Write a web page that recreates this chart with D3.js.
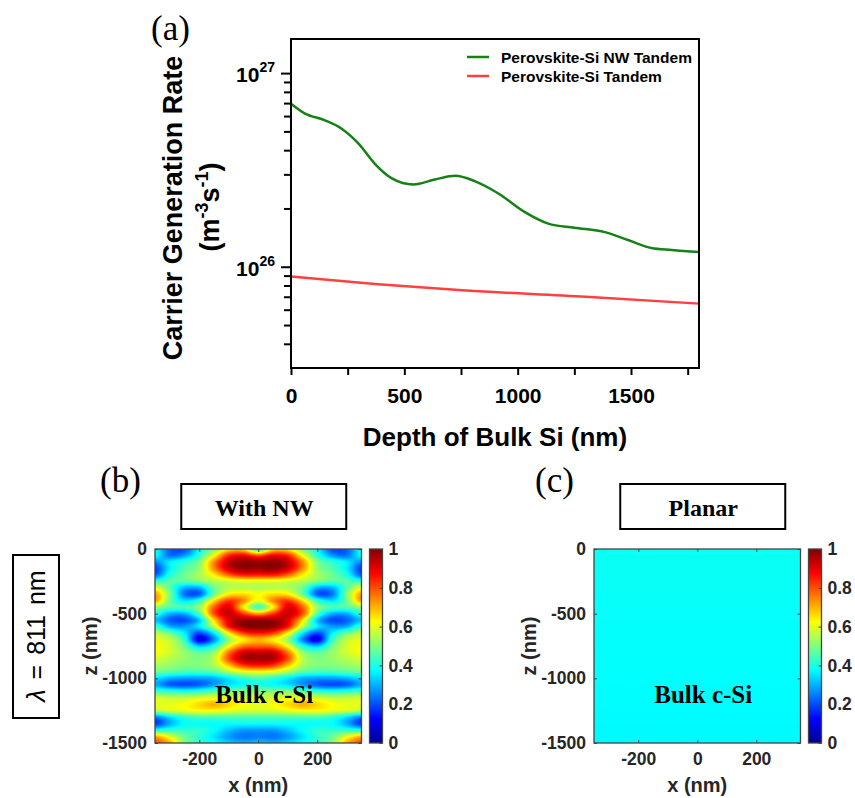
<!DOCTYPE html>
<html>
<head>
<meta charset="utf-8">
<script src="https://cdn.jsdelivr.net/npm/d3@7"></script>
<style>
  body { margin: 0; background: #fff; }
  svg text { font-family: Arial, "Liberation Sans", sans-serif; }
  .b { font-weight: bold; }
  .serif { font-family: "Times New Roman", "Liberation Serif", serif; }
</style>
</head>
<body>
<svg id="fig" width="855" height="798"></svg>
<script>
// ---------- (a) carrier generation rate vs depth ----------
const nwDepth = [0, 60, 150, 225, 300, 370, 445, 540, 635, 725, 810, 915, 1030, 1135, 1250, 1385, 1490, 1590, 1680, 1800];
const nwRate = [6.95e26, 6.2e26, 5.7e26, 5.15e26, 4.3e26, 3.4e26, 2.86e26, 2.66e26, 2.82e26, 2.95e26, 2.77e26, 2.39e26,
                1.92e26, 1.67e26, 1.59e26, 1.51e26, 1.37e26, 1.25e26, 1.22e26, 1.19e26];
const planarDepth = [0, 370, 725, 1300, 1800];
const planarRate = [8.9e25, 8.15e25, 7.6e25, 7.0e25, 6.45e25];
const seriesNames = ["Perovskite-Si NW Tandem", "Perovskite-Si Tandem"];
const depthTicks = [0, 500, 1000, 1500];
const depthMinorTicks = [250, 750, 1250, 1750];
const rateDecades = [1e26, 1e27];
const rateMinorTicks = [4e25, 5e25, 6e25, 7e25, 8e25, 9e25, 2e26, 3e26, 4e26, 5e26, 6e26, 7e26, 8e26, 9e26];

// ---------- (b),(c) normalised generation maps at 811 nm ----------
const fieldX = [-350, -300, -250, -200, -150, -100, -50, 0, 50, 100, 150, 200, 250, 300, 350];
const fieldZ = [0, -50, -100, -150, -200, -250, -300, -350, -400, -450, -500, -550, -600, -650, -700, -750,
                -800, -850, -900, -950, -1000, -1050, -1100, -1150, -1200, -1250, -1300, -1350, -1400, -1450, -1500];
const nwField = [
  [.38, .22, .20, .38, .50, .65, .66, .42, .66, .65, .50, .38, .20, .22, .38],
  [.38, .24, .28, .42, .62, .84, .88, .80, .88, .84, .62, .42, .28, .24, .38],
  [.26, .36, .42, .50, .74, .93, .98, .97, .98, .93, .74, .50, .42, .36, .26],
  [.18, .36, .45, .52, .74, .92, .98, .97, .98, .92, .74, .52, .45, .36, .18],
  [.22, .40, .48, .54, .64, .78, .85, .85, .85, .78, .64, .54, .48, .40, .22],
  [.42, .46, .46, .50, .55, .58, .60, .60, .60, .58, .55, .50, .46, .46, .42],
  [.60, .46, .30, .30, .48, .55, .56, .55, .56, .55, .48, .30, .30, .46, .60],
  [.72, .50, .24, .22, .48, .64, .66, .62, .66, .64, .48, .22, .24, .50, .72],
  [.72, .48, .35, .42, .66, .82, .74, .60, .74, .82, .66, .42, .35, .48, .72],
  [.52, .46, .45, .52, .78, .90, .64, .44, .64, .90, .78, .52, .45, .46, .52],
  [.42, .30, .30, .46, .80, .93, .82, .72, .82, .93, .80, .46, .30, .30, .42],
  [.32, .22, .20, .32, .66, .90, .97, .98, .97, .90, .66, .32, .20, .22, .32],
  [.44, .30, .28, .36, .56, .86, .98, 1.0, .98, .86, .56, .36, .28, .30, .44],
  [.55, .48, .36, .20, .36, .64, .82, .86, .82, .64, .36, .20, .36, .48, .55],
  [.60, .56, .42, .10, .26, .52, .64, .70, .64, .52, .26, .10, .42, .56, .60],
  [.62, .58, .48, .32, .40, .62, .76, .78, .76, .62, .40, .32, .48, .58, .62],
  [.62, .58, .52, .47, .52, .76, .92, .93, .92, .76, .52, .47, .52, .58, .62],
  [.58, .55, .52, .50, .56, .80, .95, .96, .95, .80, .56, .50, .52, .55, .58],
  [.54, .52, .50, .50, .54, .68, .82, .85, .82, .68, .54, .50, .50, .52, .54],
  [.48, .46, .44, .44, .46, .54, .60, .62, .60, .54, .46, .44, .44, .46, .48],
  [.35, .30, .28, .28, .30, .36, .42, .45, .42, .36, .30, .28, .28, .30, .35],
  [.30, .22, .20, .22, .28, .35, .38, .40, .38, .35, .28, .22, .20, .22, .30],
  [.44, .42, .40, .42, .46, .50, .50, .50, .50, .50, .46, .42, .40, .42, .44],
  [.58, .56, .56, .58, .60, .60, .58, .58, .58, .60, .60, .58, .56, .56, .58],
  [.60, .60, .62, .66, .70, .66, .62, .60, .62, .66, .70, .66, .62, .60, .60],
  [.55, .58, .60, .62, .62, .60, .58, .58, .58, .60, .62, .62, .60, .58, .55],
  [.25, .35, .42, .45, .45, .45, .45, .45, .45, .45, .45, .45, .42, .35, .25],
  [.18, .30, .38, .38, .38, .38, .38, .38, .38, .38, .38, .38, .38, .30, .18],
  [.40, .42, .42, .42, .38, .32, .28, .28, .28, .32, .38, .42, .42, .42, .40],
  [.70, .60, .48, .42, .35, .28, .24, .25, .24, .28, .35, .42, .48, .60, .70],
  [.80, .70, .50, .42, .38, .33, .30, .32, .30, .33, .38, .42, .50, .70, .80]
];
const planarZ = [0, -1500];
const planarField = [0.385, 0.37];
const colorbarTicks = [0, 0.2, 0.4, 0.6, 0.8, 1];
const mapXTicks = [-200, 0, 200];
const mapZTicks = [0, -500, -1000, -1500];

const svg = d3.select("#fig");
const fmt = d => `${d}`;

// MATLAB-like jet colormap
const jetStops = [0, 0.125, 0.375, 0.625, 0.875, 1];
const jet = d3.scaleLinear().domain(jetStops)
  .range(["#00008f", "#0000ff", "#00ffff", "#ffff00", "#ff0000", "#800000"]).clamp(true);

// ================= panel (a) =================
const xA = d3.scaleLinear().domain([0, 1800]).range([291, 699]);
const yA = d3.scaleLog().domain([3e25, 1.5e27]).range([368, 39]);

const gA = svg.append("g");

let ax = gA.append("g").attr("transform", "translate(0,368)")
  .call(d3.axisBottom(xA).tickValues(depthTicks).tickSizeInner(7).tickSizeOuter(0).tickPadding(13).tickFormat(fmt));
ax.append("g").call(d3.axisBottom(xA).tickValues(depthMinorTicks).tickSizeInner(7).tickSizeOuter(0).tickFormat(""));
ax.selectAll(".domain").remove();
ax.selectAll("line").attr("stroke", "#000").attr("stroke-width", 2);
ax.selectAll("text").attr("class", "b").attr("font-size", 21).attr("fill", "#000");

let ay = gA.append("g").attr("transform", "translate(291,0)")
  .call(d3.axisLeft(yA).tickValues(rateMinorTicks).tickSizeInner(7).tickSizeOuter(0).tickFormat(""));
ay.append("g").call(d3.axisLeft(yA).tickValues(rateDecades).tickSizeInner(10).tickSizeOuter(0).tickFormat(""));
ay.selectAll(".domain").remove();
ay.selectAll("line").attr("stroke", "#000").attr("stroke-width", 2);

rateDecades.forEach(v => {
  const t = gA.append("text").attr("class", "b").attr("x", 275).attr("y", yA(v) + 9)
    .attr("text-anchor", "end").attr("font-size", 21);
  t.append("tspan").text("10");
  t.append("tspan").attr("font-size", 14).attr("dy", -10).text(Math.round(Math.log10(v)));
});

const lineGen = d3.line().x(d => xA(d[0])).y(d => yA(d[1])).curve(d3.curveMonotoneX);
gA.append("path").datum(d3.zip(planarDepth, planarRate)).attr("d", lineGen)
  .attr("fill", "none").attr("stroke", "#ff4040").attr("stroke-width", 2.5);
gA.append("path").datum(d3.zip(nwDepth, nwRate)).attr("d", lineGen)
  .attr("fill", "none").attr("stroke", "#148214").attr("stroke-width", 2.5);

gA.append("rect").attr("x", 291).attr("y", 39).attr("width", 408).attr("height", 329)
  .attr("fill", "none").attr("stroke", "#000").attr("stroke-width", 2);

// legend
const legendColors = ["#148214", "#ff4040"];
seriesNames.forEach((name, i) => {
  const yy = 57 + i * 19;
  gA.append("line").attr("x1", 467).attr("x2", 489).attr("y1", yy).attr("y2", yy)
    .attr("stroke", legendColors[i]).attr("stroke-width", 2.5);
  gA.append("text").attr("class", "b").attr("x", 501).attr("y", yy + 5.5)
    .attr("font-size", 15.5).text(name);
});

// axis titles
gA.append("text").attr("class", "b").attr("font-size", 27).attr("text-anchor", "middle")
  .attr("transform", "translate(182,208) rotate(-90)").text("Carrier Generation Rate");
const yt2 = gA.append("text").attr("class", "b").attr("font-size", 27).attr("text-anchor", "middle")
  .attr("transform", "translate(219,207) rotate(-90)");
yt2.append("tspan").text("(m");
yt2.append("tspan").attr("font-size", 18).attr("dy", -11).text("-3");
yt2.append("tspan").attr("dy", 11).text("s");
yt2.append("tspan").attr("font-size", 18).attr("dy", -11).text("-1");
yt2.append("tspan").attr("dy", 11).text(")");

gA.append("text").attr("class", "b").attr("font-size", 26).attr("text-anchor", "middle")
  .attr("x", 495).attr("y", 446).text("Depth of Bulk Si (nm)");

svg.append("text").attr("class", "serif").attr("font-size", 35).attr("x", 151).attr("y", 40).text("(a)");

// ================= panels (b), (c) =================
function catmull(p0, p1, p2, p3, t) {
  return 0.5 * (2 * p1 + (-p0 + p2) * t + (2 * p0 - 5 * p1 + 4 * p2 - p3) * t * t + (-p0 + 3 * p1 - 3 * p2 + p3) * t * t * t);
}
const gxScale = d3.scaleLinear().domain([fieldX[0], fieldX[fieldX.length - 1]]).range([0, fieldX.length - 1]);
const gzScale = d3.scaleLinear().domain([fieldZ[0], fieldZ[fieldZ.length - 1]]).range([0, fieldZ.length - 1]);
function nwValue(xv, zv) {
  const gx = gxScale(xv), gz = gzScale(zv);
  const nc = fieldX.length, nr = fieldZ.length;
  const cl = (a, n) => Math.max(0, Math.min(n - 1, a));
  const ci = Math.floor(gx), ri = Math.floor(gz), tx = gx - ci, tz = gz - ri;
  const col = [];
  for (let m = -1; m <= 2; m++) {
    const r = nwField[cl(ri + m, nr)];
    col.push(catmull(r[cl(ci - 1, nc)], r[cl(ci, nc)], r[cl(ci + 1, nc)], r[cl(ci + 2, nc)], tx));
  }
  return catmull(col[0], col[1], col[2], col[3], tz);
}
const planarScale = d3.scaleLinear().domain(planarZ).range(planarField);
const planarValue = (xv, zv) => planarScale(zv);

function fieldImage(x, y, valueAt) {
  const [x0, x1] = x.range(), [y0, y1] = y.range();
  const w = Math.round(x1 - x0), h = Math.round(y1 - y0);
  const cv = document.createElement("canvas");
  cv.width = w; cv.height = h;
  const ctx = cv.getContext("2d");
  const img = ctx.createImageData(w, h);
  for (let j = 0; j < h; j++) {
    for (let i = 0; i < w; i++) {
      const c = d3.rgb(jet(valueAt(x.invert(x0 + i + 0.5), y.invert(y0 + j + 0.5))));
      const k = 4 * (j * w + i);
      img.data[k] = c.r; img.data[k + 1] = c.g; img.data[k + 2] = c.b; img.data[k + 3] = 255;
    }
  }
  ctx.putImageData(img, 0, 0);
  return cv.toDataURL();
}

const defs = svg.append("defs");
const grad = defs.append("linearGradient").attr("id", "jetGrad")
  .attr("x1", 0).attr("y1", 1).attr("x2", 0).attr("y2", 0);
jetStops.forEach(s => grad.append("stop").attr("offset", s).attr("stop-color", jet(s)));

function drawMap(cfg) {
  const g = svg.append("g");
  const x = d3.scaleLinear().domain([-350, 350]).range([cfg.left, cfg.left + 206.5]);
  const y = d3.scaleLinear().domain([0, -1500]).range([549, 743]);
  const [px0, px1] = x.range();

  g.append("image").attr("x", px0).attr("y", 549).attr("width", Math.round(px1 - px0)).attr("height", 194)
    .attr("preserveAspectRatio", "none").attr("href", fieldImage(x, y, cfg.valueAt));

  const axisStyle = sel => {
    sel.selectAll(".domain").remove();
    sel.selectAll("line").attr("stroke", "#444").attr("stroke-width", 1);
    sel.selectAll("text").attr("class", "b").attr("font-size", 17.5).attr("fill", "#262626");
  };
  g.append("g").attr("transform", "translate(0,743)")
    .call(d3.axisBottom(x).tickValues(mapXTicks).tickSizeInner(-3).tickSizeOuter(0).tickPadding(10).tickFormat(fmt)).call(axisStyle);
  g.append("g").attr("transform", "translate(0,549)")
    .call(d3.axisTop(x).tickValues(mapXTicks).tickSizeInner(-3).tickSizeOuter(0).tickFormat("")).call(axisStyle);
  g.append("g").attr("transform", `translate(${px0},0)`)
    .call(d3.axisLeft(y).tickValues(mapZTicks).tickSizeInner(-3).tickSizeOuter(0).tickPadding(8).tickFormat(fmt)).call(axisStyle);
  g.append("g").attr("transform", `translate(${px1},0)`)
    .call(d3.axisRight(y).tickValues(mapZTicks).tickSizeInner(-3).tickSizeOuter(0).tickFormat("")).call(axisStyle);

  g.append("rect").attr("x", px0).attr("y", 549).attr("width", px1 - px0).attr("height", 194)
    .attr("fill", "none").attr("stroke", "#444").attr("stroke-width", 1.3);

  // colorbar
  const cbx = px1 + 8, cbw = 13;
  const c = d3.scaleLinear().domain([0, 1]).range([743, 549]);
  g.append("rect").attr("x", cbx).attr("y", 549).attr("width", cbw).attr("height", 194)
    .attr("fill", "url(#jetGrad)").attr("stroke", "#444").attr("stroke-width", 1.3);
  g.append("g").attr("transform", `translate(${cbx + cbw},0)`)
    .call(d3.axisRight(c).tickValues(colorbarTicks).tickSizeInner(-3).tickSizeOuter(0).tickPadding(6).tickFormat(fmt))
    .call(axisStyle);

  // labels
  const cx = (px0 + px1) / 2;
  g.append("text").attr("class", "b").attr("font-size", 20).attr("text-anchor", "middle")
    .attr("fill", "#262626").attr("x", cx).attr("y", 792).text("x (nm)");
  g.append("text").attr("class", "b").attr("font-size", 20).attr("text-anchor", "middle")
    .attr("fill", "#262626").attr("transform", `translate(${px0 - 58},646) rotate(-90)`).text("z (nm)");
  g.append("text").attr("class", "serif").attr("font-weight", "bold").attr("font-size", 25)
    .attr("text-anchor", "middle").attr("x", cx + 6).attr("y", 703).text("Bulk c-Si");

  // title box
  g.append("rect").attr("x", cx - 77).attr("y", 484).attr("width", 165).attr("height", 45)
    .attr("fill", "#fff").attr("stroke", "#000").attr("stroke-width", 2);
  g.append("text").attr("class", "serif").attr("font-weight", "bold").attr("font-size", 24)
    .attr("text-anchor", "middle").attr("x", cx + 6).attr("y", 516).text(cfg.title);
  svg.append("text").attr("class", "serif").attr("font-size", 35).attr("x", cfg.tagX).attr("y", 492).text(cfg.tag);
}

drawMap({ left: 155, valueAt: nwValue, title: "With NW", tag: "(b)", tagX: 100 });
drawMap({ left: 594, valueAt: planarValue, title: "Planar", tag: "(c)", tagX: 535 });

// wavelength label
svg.append("rect").attr("x", 13).attr("y", 555).attr("width", 46).attr("height", 163)
  .attr("fill", "#fff").attr("stroke", "#000").attr("stroke-width", 2);
const lam = svg.append("text").attr("font-family", "'Noto Sans', 'Open Sans', sans-serif").attr("font-size", 25)
  .attr("text-anchor", "middle").attr("word-spacing", 3).attr("transform", "translate(45,636) rotate(-90)");
lam.append("tspan").attr("font-style", "italic").text("λ");
lam.append("tspan").text(" = 811 nm");
</script>
</body>
</html>
